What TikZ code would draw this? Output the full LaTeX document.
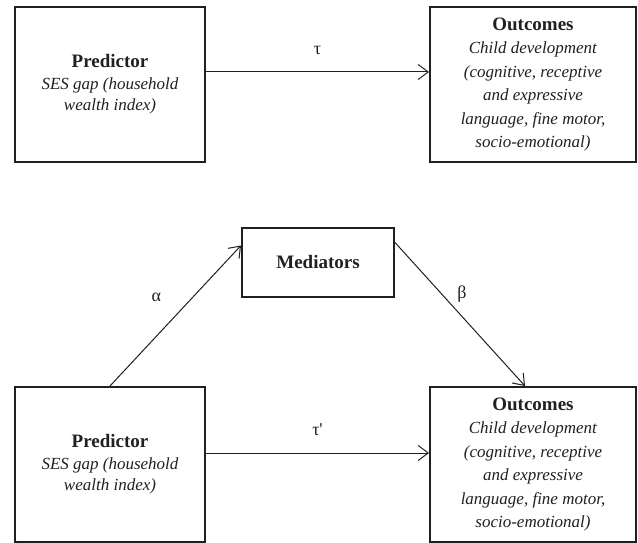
\documentclass[tikz,border=0pt]{standalone}
\usepackage{fontspec}
\setmainfont{Liberation Serif}
\newfontfamily\lblfont{Liberation Serif}
\usetikzlibrary{arrows.meta,calc}
\definecolor{ink}{RGB}{35,31,32}
\begin{document}
\begin{tikzpicture}[x=1pt,y=-1pt,
  box/.style={draw=ink,line width=2pt,rectangle,inner sep=0pt,align=center,text=ink,
    font=\fontsize{17}{21.7}\selectfont},
  predbox/.style={box,minimum width=190pt,minimum height=155pt},
  outbox/.style={box,minimum width=206pt,minimum height=155pt,font=\fontsize{17}{23.5}\selectfont},
  medbox/.style={box,minimum width=152pt,minimum height=69pt},
  conn/.style={draw=ink,line width=1pt,-{Straight Barb[length=10pt,width=15pt,line width=1pt]}},
  lab/.style={text=ink,font=\lblfont\fontsize{18}{20}\selectfont,inner sep=0pt}
]
\useasboundingbox (0,0) rectangle (638,543);
\node[predbox] (P1) at (110,84.5) {{\fontsize{19}{21.7}\selectfont\bfseries Predictor}\\ \textit{SES gap (household}\\ \textit{wealth index)}};
\node[outbox] (O1) at (533,84.5) {{\fontsize{19}{23.5}\selectfont\bfseries Outcomes}\\ \textit{Child development}\\ \textit{(cognitive, receptive}\\ \textit{and expressive}\\ \textit{language, fine motor,}\\ \textit{socio-emotional)}};
\node[medbox] (M) at (318,262.5) {{\fontsize{19}{21.7}\selectfont\bfseries Mediators}};
\node[predbox] (P2) at (110,464.5) {{\fontsize{19}{21.7}\selectfont\bfseries Predictor}\\ \textit{SES gap (household}\\ \textit{wealth index)}};
\node[outbox] (O2) at (533,464.5) {{\fontsize{19}{23.5}\selectfont\bfseries Outcomes}\\ \textit{Child development}\\ \textit{(cognitive, receptive}\\ \textit{and expressive}\\ \textit{language, fine motor,}\\ \textit{socio-emotional)}};

\draw[conn] ([yshift=12.5pt]P1.east) -- ([yshift=12.5pt]O1.west) node[lab,midway,above=17pt] {τ};
\draw[conn] ([yshift=11.5pt]P2.east) -- ([yshift=11.5pt]O2.west) node[lab,midway,above=17pt] {τ'};
\draw[conn] (P2.north) -- ([yshift=17pt]M.west) node[lab,pos=0.5,above left=14pt] {α};
\draw[conn] ([yshift=20pt]M.east) -- ([xshift=-8pt]O2.north) node[lab,pos=0.36,right=15pt] {β};
\end{tikzpicture}
\end{document}
